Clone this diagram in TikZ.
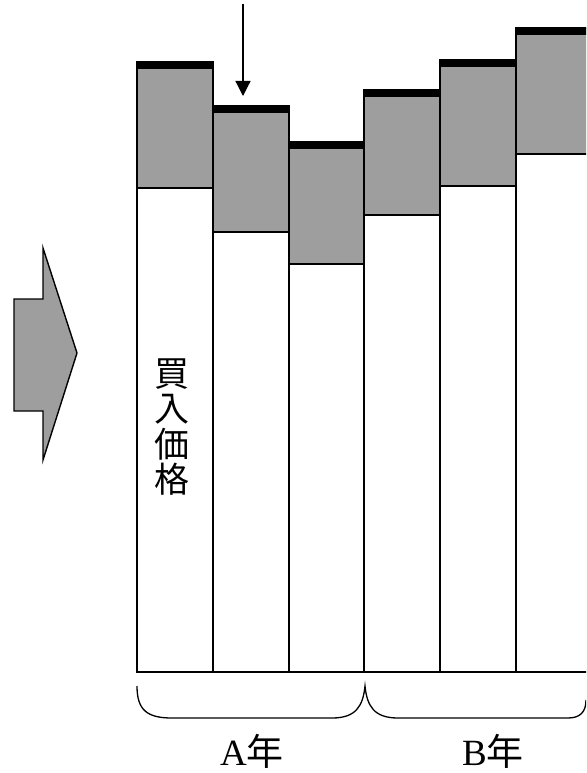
\documentclass[tikz,border=0pt]{standalone}
\usepackage{fontspec}
\setmainfont{Liberation Serif}
\newfontfamily\jp{Noto Sans CJK JP}
\usetikzlibrary{arrows.meta}
\definecolor{stip}{gray}{0.62}
\tikzset{
  barline/.style={draw=black, line width=1.6pt},
  band/.style={fill=black},
  grayfill/.style={fill=stip},
  yearlabel/.style={font=\fontsize{37}{40}\selectfont, inner sep=0pt},
  vlabel/.style={font=\jp\fontsize{35}{35.5}\selectfont, align=center, inner sep=0pt},
}
\begin{document}
\begin{tikzpicture}[x=1pt,y=-1pt]
\useasboundingbox (0,0) rectangle (586,773);
\begin{scope}
\clip (0,0) rectangle (586,773);
% bars: left x / right x / top / gray bottom
\foreach \l/\r/\t/\g in {137/213/62/188, 213/289/106/232, 289/364/142/264, 364/440/90/215, 440/516/60/186, 516/600/28/154}{
  \path[grayfill] (\l,\t) rectangle (\r,\g);
  \path[band] (\l,\t) rectangle (\r,\t+7);
  \draw[barline] (\l,\g) -- (\r,\g);
  \draw[barline] (\l,\t) rectangle (\r,672);
}
% brace
\coordinate (bl) at (137,686);
\coordinate (bm) at (365,686);
\coordinate (br) at (586,700);
\draw[line width=1.3pt] (bl) .. controls (137,710) and (147,718) .. (172,718)
  -- (332,718) .. controls (356,718) and (363,706) .. (bm)
  .. controls (367,706) and (374,718) .. (398,718)
  -- (568,718) .. controls (580,718) and (586,712) .. (br);
\end{scope}
% down arrow
\coordinate (as) at (243,4);
\coordinate (at) at (243,96);
\draw[line width=1.2pt, -{Triangle[length=15pt,width=15pt]}] (as) -- (at);
% big right arrow
\draw[grayfill, draw=black, line width=1.4pt, line join=miter]
  (14,299) -- (43,299) -- (43,248) -- (77,353) -- (43,460) -- (43,411) -- (14,411) -- cycle;
% labels
\node[vlabel] (kaiire) at (172,427) {買\\入\\価\\格};
\node[yearlabel] (ya) at (252,751) {A{\jp 年}};
\node[yearlabel] (yb) at (493,751) {B{\jp 年}};
\end{tikzpicture}
\end{document}
